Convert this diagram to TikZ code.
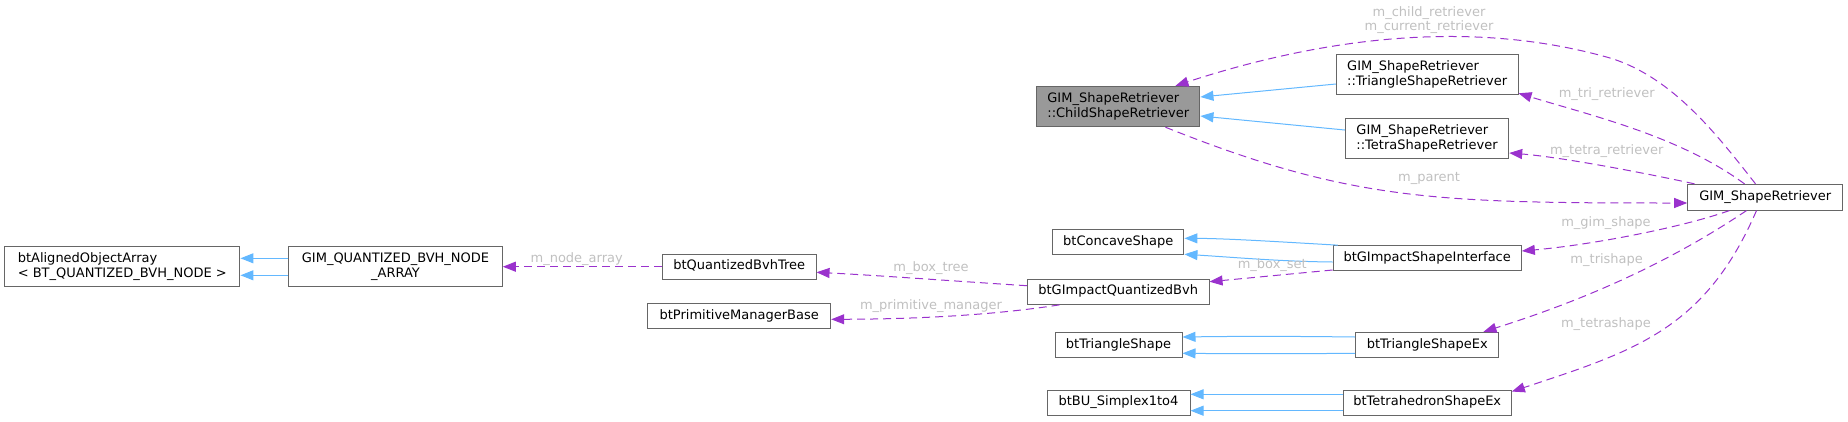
\documentclass[tikz,border=0pt]{standalone}
\usepackage{fontspec}
\setmainfont{DejaVu Sans}
\usetikzlibrary{arrows.meta,calc}
\definecolor{boxgray}{HTML}{666666}
\definecolor{childfill}{HTML}{999999}
\definecolor{inhblue}{HTML}{63B8FF}
\definecolor{usepurple}{HTML}{9A32CD}
\definecolor{lblgray}{HTML}{C0C0C0}
\tikzset{
  cls/.style={draw=boxgray, line width=1pt, fill=white, inner sep=0pt,
    font=\fontsize{13}{15}\selectfont, align=center},
  cls1/.style={cls, text height=9.5pt, text depth=3pt},
  clsl/.style={cls, align=left},
  inh/.style={draw=inhblue, line width=1pt, -{Triangle[length=13pt,width=10pt]}},
  useedge/.style={draw=usepurple, line width=1pt, dash pattern=on 8pt off 5pt,
    -{Triangle[length=13pt,width=10pt]}},
  lbl/.style={text=lblgray, font=\fontsize{13}{15}\selectfont, inner sep=0pt,
    anchor=base},
}
\begin{document}
\begin{tikzpicture}[x=1pt, y=-1pt]
\useasboundingbox (0,0) rectangle (1848,421);
% nodes
\node[clsl, minimum width=235.3pt, minimum height=40pt] (aoa) at (122.3,266.7)
  {btAlignedObjectArray\\< BT\_QUANTIZED\_BVH\_NODE >};
\node[cls, minimum width=213.6pt, minimum height=40pt] (gqa) at (395.5,266.7)
  {GIM\_QUANTIZED\_BVH\_NODE\\\_ARRAY};
\node[cls1, minimum width=153.7pt, minimum height=25.3pt] (qbt) at (739.2,266.7) {btQuantizedBvhTree};
\node[cls1, minimum width=183pt, minimum height=25.4pt] (pmb) at (739.2,316) {btPrimitiveManagerBase};
\node[cls1, minimum width=181.7pt, minimum height=25.3pt] (gqb) at (1118.2,291.7) {btGImpactQuantizedBvh};
\node[cls1, minimum width=131.3pt, minimum height=25.3pt] (ccs) at (1118.3,242.3) {btConcaveShape};
\node[cls1, minimum width=188.3pt, minimum height=25.3pt] (gsi) at (1427.2,258.3) {btGImpactShapeInterface};
\node[cls1, minimum width=127pt, minimum height=25.4pt] (tsh) at (1118.5,345) {btTriangleShape};
\node[cls1, minimum width=143.3pt, minimum height=25.4pt] (tsx) at (1427.3,345) {btTriangleShapeEx};
\node[cls1, minimum width=143pt, minimum height=25.3pt] (bus) at (1118.5,402.7) {btBU\_Simplex1to4};
\node[cls1, minimum width=168.3pt, minimum height=25.3pt] (tex) at (1427.2,402.7) {btTetrahedronShapeEx};
\node[clsl, fill=childfill, minimum width=163.3pt, minimum height=40.4pt] (csr) at (1118.3,106.5)
  {GIM\_ShapeRetriever\\::ChildShapeRetriever};
\node[clsl, minimum width=181.7pt, minimum height=39.6pt] (tsr) at (1427.2,74.5)
  {GIM\_ShapeRetriever\\::TriangleShapeRetriever};
\node[clsl, minimum width=163.4pt, minimum height=40pt] (ter) at (1427,138.3)
  {GIM\_ShapeRetriever\\::TetraShapeRetriever};
\node[cls1, minimum width=155pt, minimum height=25.7pt] (gsr) at (1765.2,197.2) {GIM\_ShapeRetriever};
% inheritance edges
\draw[inh] ($(gqa.west)+(0,-8.4)$) -- ($(aoa.east)+(0,-8.4)$);
\draw[inh] ($(gqa.west)+(0,8.6)$) -- ($(aoa.east)+(0,8.6)$);
\draw[inh] ($(tsr.west)+(0,9.5)$) -- ($(csr.east)+(0,-9.5)$);
\draw[inh] ($(ter.west)+(0,-8.3)$) -- ($(csr.east)+(0,9.5)$);
\draw[inh] ($(gsi.north west)+(5.3,0)$) .. controls (1290,242.5) and (1230,238.5) .. ($(ccs.east)+(0,-4)$);
\draw[inh] ($(gsi.west)+(0,3.7)$) .. controls (1280,261.5) and (1230,257) .. ($(ccs.east)+(0,12)$);
\draw[inh] ($(tsx.west)+(0,-8)$) .. controls (1290,336.2) and (1240,336.2) .. ($(tsh.east)+(0,-8)$);
\draw[inh] ($(tsx.west)+(0,8.3)$) .. controls (1290,353.8) and (1240,353.8) .. ($(tsh.east)+(0,8.3)$);
\draw[inh] ($(tex.west)+(0,-8.4)$) -- ($(bus.east)+(0,-8.4)$);
\draw[inh] ($(tex.west)+(0,8)$) -- ($(bus.east)+(0,8)$);
% usage edges
\draw[useedge] (qbt.west) -- (gqa.east);
\draw[useedge] ($(gqb.west)+(0,-6)$) .. controls (960,281.5) and (880,275.5) .. ($(qbt.east)+(0,5.6)$);
\draw[useedge] ($(gqb.south west)+(32.7,0)$) .. controls (1020,311) and (950,319) .. ($(pmb.east)+(0,3.3)$);
\draw[useedge] ($(gsi.west)+(0,11.7)$) -- ($(gqb.east)+(0,-10)$);
\draw[useedge] ($(gsr.north west)+(68.3,0)$) .. controls (1716.5,134) and (1672.3,77) .. (1610,58)
  .. controls (1466.3,17) and (1316,40) .. ($(csr.north east)+(-25,0)$);
\draw[useedge] ($(csr.south east)+(-35,0)$) .. controls (1350.6,201.2) and (1437,203) .. ($(gsr.west)+(0,5.8)$);
\draw[useedge] ($(gsr.north west)+(57.3,0)$) .. controls (1680,136.6) and (1594.5,116.4) .. ($(tsr.east)+(0,18.8)$);
\draw[useedge] ($(gsr.north west)+(7.3,0)$) .. controls (1640,172) and (1560,157) .. ($(ter.east)+(0,14.7)$);
\draw[useedge] ($(gsr.south west)+(42.3,0)$) .. controls (1680,228) and (1590,245) .. ($(gsi.east)+(0,-7.3)$);
\draw[useedge] ($(gsr.south west)+(59.3,0)$) .. controls (1664,266) and (1578,302) .. ($(tsx.north east)+(-16,0)$);
\draw[useedge] ($(gsr.south west)+(69.3,0)$) .. controls (1705,329.6) and (1634.5,351) .. ($(tex.north east)+(0,2)$);
% labels
\node[lbl] (lna) at (576.7,262.7) {m\_node\_array};
\node[lbl] (lbt) at (931,271) {m\_box\_tree};
\node[lbl] (lpm) at (931,309.3) {m\_primitive\_manager};
\node[lbl] (lbs) at (1272.3,268.3) {m\_box\_set};
\node[lbl] (lcr) at (1429,16) {m\_child\_retriever};
\node[lbl] (lcu) at (1429,30.5) {m\_current\_retriever};
\node[lbl] (lpa) at (1429,181) {m\_parent};
\node[lbl] (ltr) at (1606.7,97) {m\_tri\_retriever};
\node[lbl] (lter) at (1606.7,154.6) {m\_tetra\_retriever};
\node[lbl] (lgs) at (1606,226.6) {m\_gim\_shape};
\node[lbl] (lts) at (1606.7,263.6) {m\_trishape};
\node[lbl] (ltes) at (1606,327.6) {m\_tetrashape};
\end{tikzpicture}
\end{document}
